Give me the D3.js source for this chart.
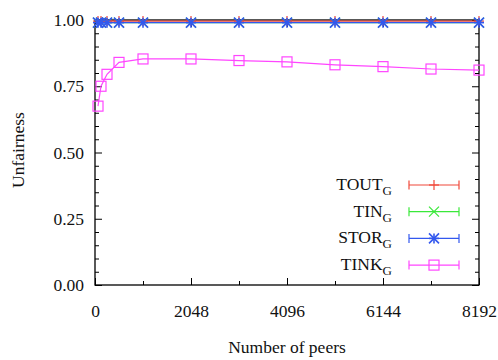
<!DOCTYPE html>
<html>
<head>
<meta charset="utf-8">
<script src="https://cdn.jsdelivr.net/npm/d3@7"></script>
<style>
  body { margin: 0; background: #fff; }
  svg { display: block; }
  text { font-family: "Liberation Serif", serif; fill: #111; }
</style>
</head>
<body>
<svg id="chart" width="498" height="360"></svg>
<script>
// ---- data ----
const peers = [64, 128, 256, 512, 1024, 2048, 3072, 4096, 5120, 6144, 7168, 8192];
const toutG = [0.996, 0.996, 0.996, 0.996, 0.996, 0.996, 0.996, 0.996, 0.996, 0.996, 0.996, 0.996];
const tinG  = [0.99, 0.99, 0.99, 0.99, 0.99, 0.99, 0.99, 0.99, 0.99, 0.99, 0.99, 0.99];
const storG = [0.99, 0.99, 0.99, 0.99, 0.99, 0.99, 0.99, 0.99, 0.99, 0.99, 0.99, 0.99];
const tinkG = [0.675, 0.75, 0.795, 0.84, 0.853, 0.853, 0.847, 0.842, 0.831, 0.824, 0.815, 0.811];
const xTicks = [0, 2048, 4096, 6144, 8192];
const xMinor = [1024, 3072, 5120, 7168];
const yTicks = [0, 0.25, 0.5, 0.75, 1.0];
const seriesNames = ["TOUT", "TIN", "STOR", "TINK"];
const seriesColors = ["#f0483a", "#3ae83a", "#3358ee", "#ff46ff"];
const seriesMarkers = ["plus", "cross", "star", "square"];
const seriesValues = [toutG, tinG, storG, tinkG];

// ---- layout ----
const svg = d3.select("#chart");
const L = 95, R = 479, T = 20, B = 285;
const x = d3.scaleLinear().domain([0, 8192]).range([L, R]);
const y = d3.scaleLinear().domain([0, 1]).range([B, T]);
const fs = 17.5;

const g = svg.append("g");
function tickAxis(axisGen, tx, ty, size) {
  const a = g.append("g").attr("transform", `translate(${tx},${ty})`)
    .call(axisGen.tickSizeInner(size).tickSizeOuter(0));
  a.attr("font-family", null).attr("font-size", null);
  a.select(".domain").remove();
  a.selectAll("line").attr("stroke", "#000").attr("stroke-width", 1);
  return a;
}
const xb = tickAxis(d3.axisBottom(x).tickValues(xTicks).tickFormat(d3.format("d")), 0, B, -7);
xb.selectAll("text").attr("y", 20).attr("font-size", fs).attr("fill", "#111");
tickAxis(d3.axisBottom(x).tickValues(xMinor).tickFormat(""), 0, B, -4);
tickAxis(d3.axisTop(x).tickValues(xTicks).tickFormat(""), 0, T, -7);
tickAxis(d3.axisTop(x).tickValues(xMinor).tickFormat(""), 0, T, -4);
const yMinor = d3.range(0, 1.0001, 0.05).filter(v => Math.abs(v * 4 - Math.round(v * 4)) > 1e-6);
const yl = tickAxis(d3.axisLeft(y).tickValues(yTicks).tickFormat(d3.format(".2f")), L, 0, -7);
yl.selectAll("text").attr("x", -11).attr("font-size", fs).attr("fill", "#111");
tickAxis(d3.axisLeft(y).tickValues(yMinor).tickFormat(""), L, 0, -4);
tickAxis(d3.axisRight(y).tickValues(yTicks).tickFormat(""), R, 0, -7);
tickAxis(d3.axisRight(y).tickValues(yMinor).tickFormat(""), R, 0, -4);

g.append("rect").attr("x", L).attr("y", T).attr("width", R - L).attr("height", B - T)
  .attr("fill", "none").attr("stroke", "#000").attr("stroke-width", 1.3);

svg.append("text").attr("x", 287).attr("y", 353).attr("text-anchor", "middle")
  .attr("font-size", fs).text("Number of peers");
svg.append("text").attr("transform", "translate(24,150) rotate(-90)").attr("text-anchor", "middle")
  .attr("font-size", fs).text("Unfairness");

function marker(sel, type, cx, cy, color, s, sw) {
  const h = s / 2;
  const gg = sel.append("g").attr("stroke", color).attr("fill", "none").attr("stroke-width", sw || 1.2);
  if (type === "plus" || type === "star") {
    gg.append("line").attr("x1", cx - h).attr("x2", cx + h).attr("y1", cy).attr("y2", cy);
    gg.append("line").attr("x1", cx).attr("x2", cx).attr("y1", cy - h).attr("y2", cy + h);
  }
  if (type === "cross" || type === "star") {
    gg.append("line").attr("x1", cx - h).attr("x2", cx + h).attr("y1", cy - h).attr("y2", cy + h);
    gg.append("line").attr("x1", cx - h).attr("x2", cx + h).attr("y1", cy + h).attr("y2", cy - h);
  }
  if (type === "square") {
    gg.append("rect").attr("x", cx - h).attr("y", cy - h).attr("width", s).attr("height", s);
  }
}

const line = d3.line().x(d => x(d[0])).y(d => y(d[1]));
seriesValues.forEach((vals, i) => {
  const pts = peers.map((p, j) => [p, vals[j]]);
  const sg = svg.append("g");
  sg.append("path").datum(pts).attr("d", line).attr("fill", "none")
    .attr("stroke", seriesColors[i]).attr("stroke-width", 1.2);
  pts.forEach(p => marker(sg, seriesMarkers[i], x(p[0]), y(p[1]), seriesColors[i],
    i === 3 ? 10 : 10, i === 2 ? 1.6 : 1.2));
});

const legX1 = 409, legX2 = 459, legM = 434;
const legY0 = 185, legDy = 26.7;
seriesNames.forEach((name, i) => {
  const ly = legY0 + i * legDy;
  const c = seriesColors[i];
  const lg = svg.append("g");
  lg.append("line").attr("x1", legX1).attr("x2", legX2).attr("y1", ly).attr("y2", ly)
    .attr("stroke", c).attr("stroke-width", 1.2);
  [legX1, legX2].forEach(xx => lg.append("line").attr("x1", xx).attr("x2", xx)
    .attr("y1", ly - 4.5).attr("y2", ly + 4.5).attr("stroke", c).attr("stroke-width", 1.2));
  marker(lg, seriesMarkers[i], legM, ly, c, 10, i === 2 ? 1.6 : 1.2);
  const t = lg.append("text").attr("x", 392).attr("y", ly + 5).attr("text-anchor", "end").attr("font-size", fs);
  t.append("tspan").text(name);
  t.append("tspan").attr("font-size", 13).attr("dy", 5).text("G");
});
</script>
</body>
</html>
